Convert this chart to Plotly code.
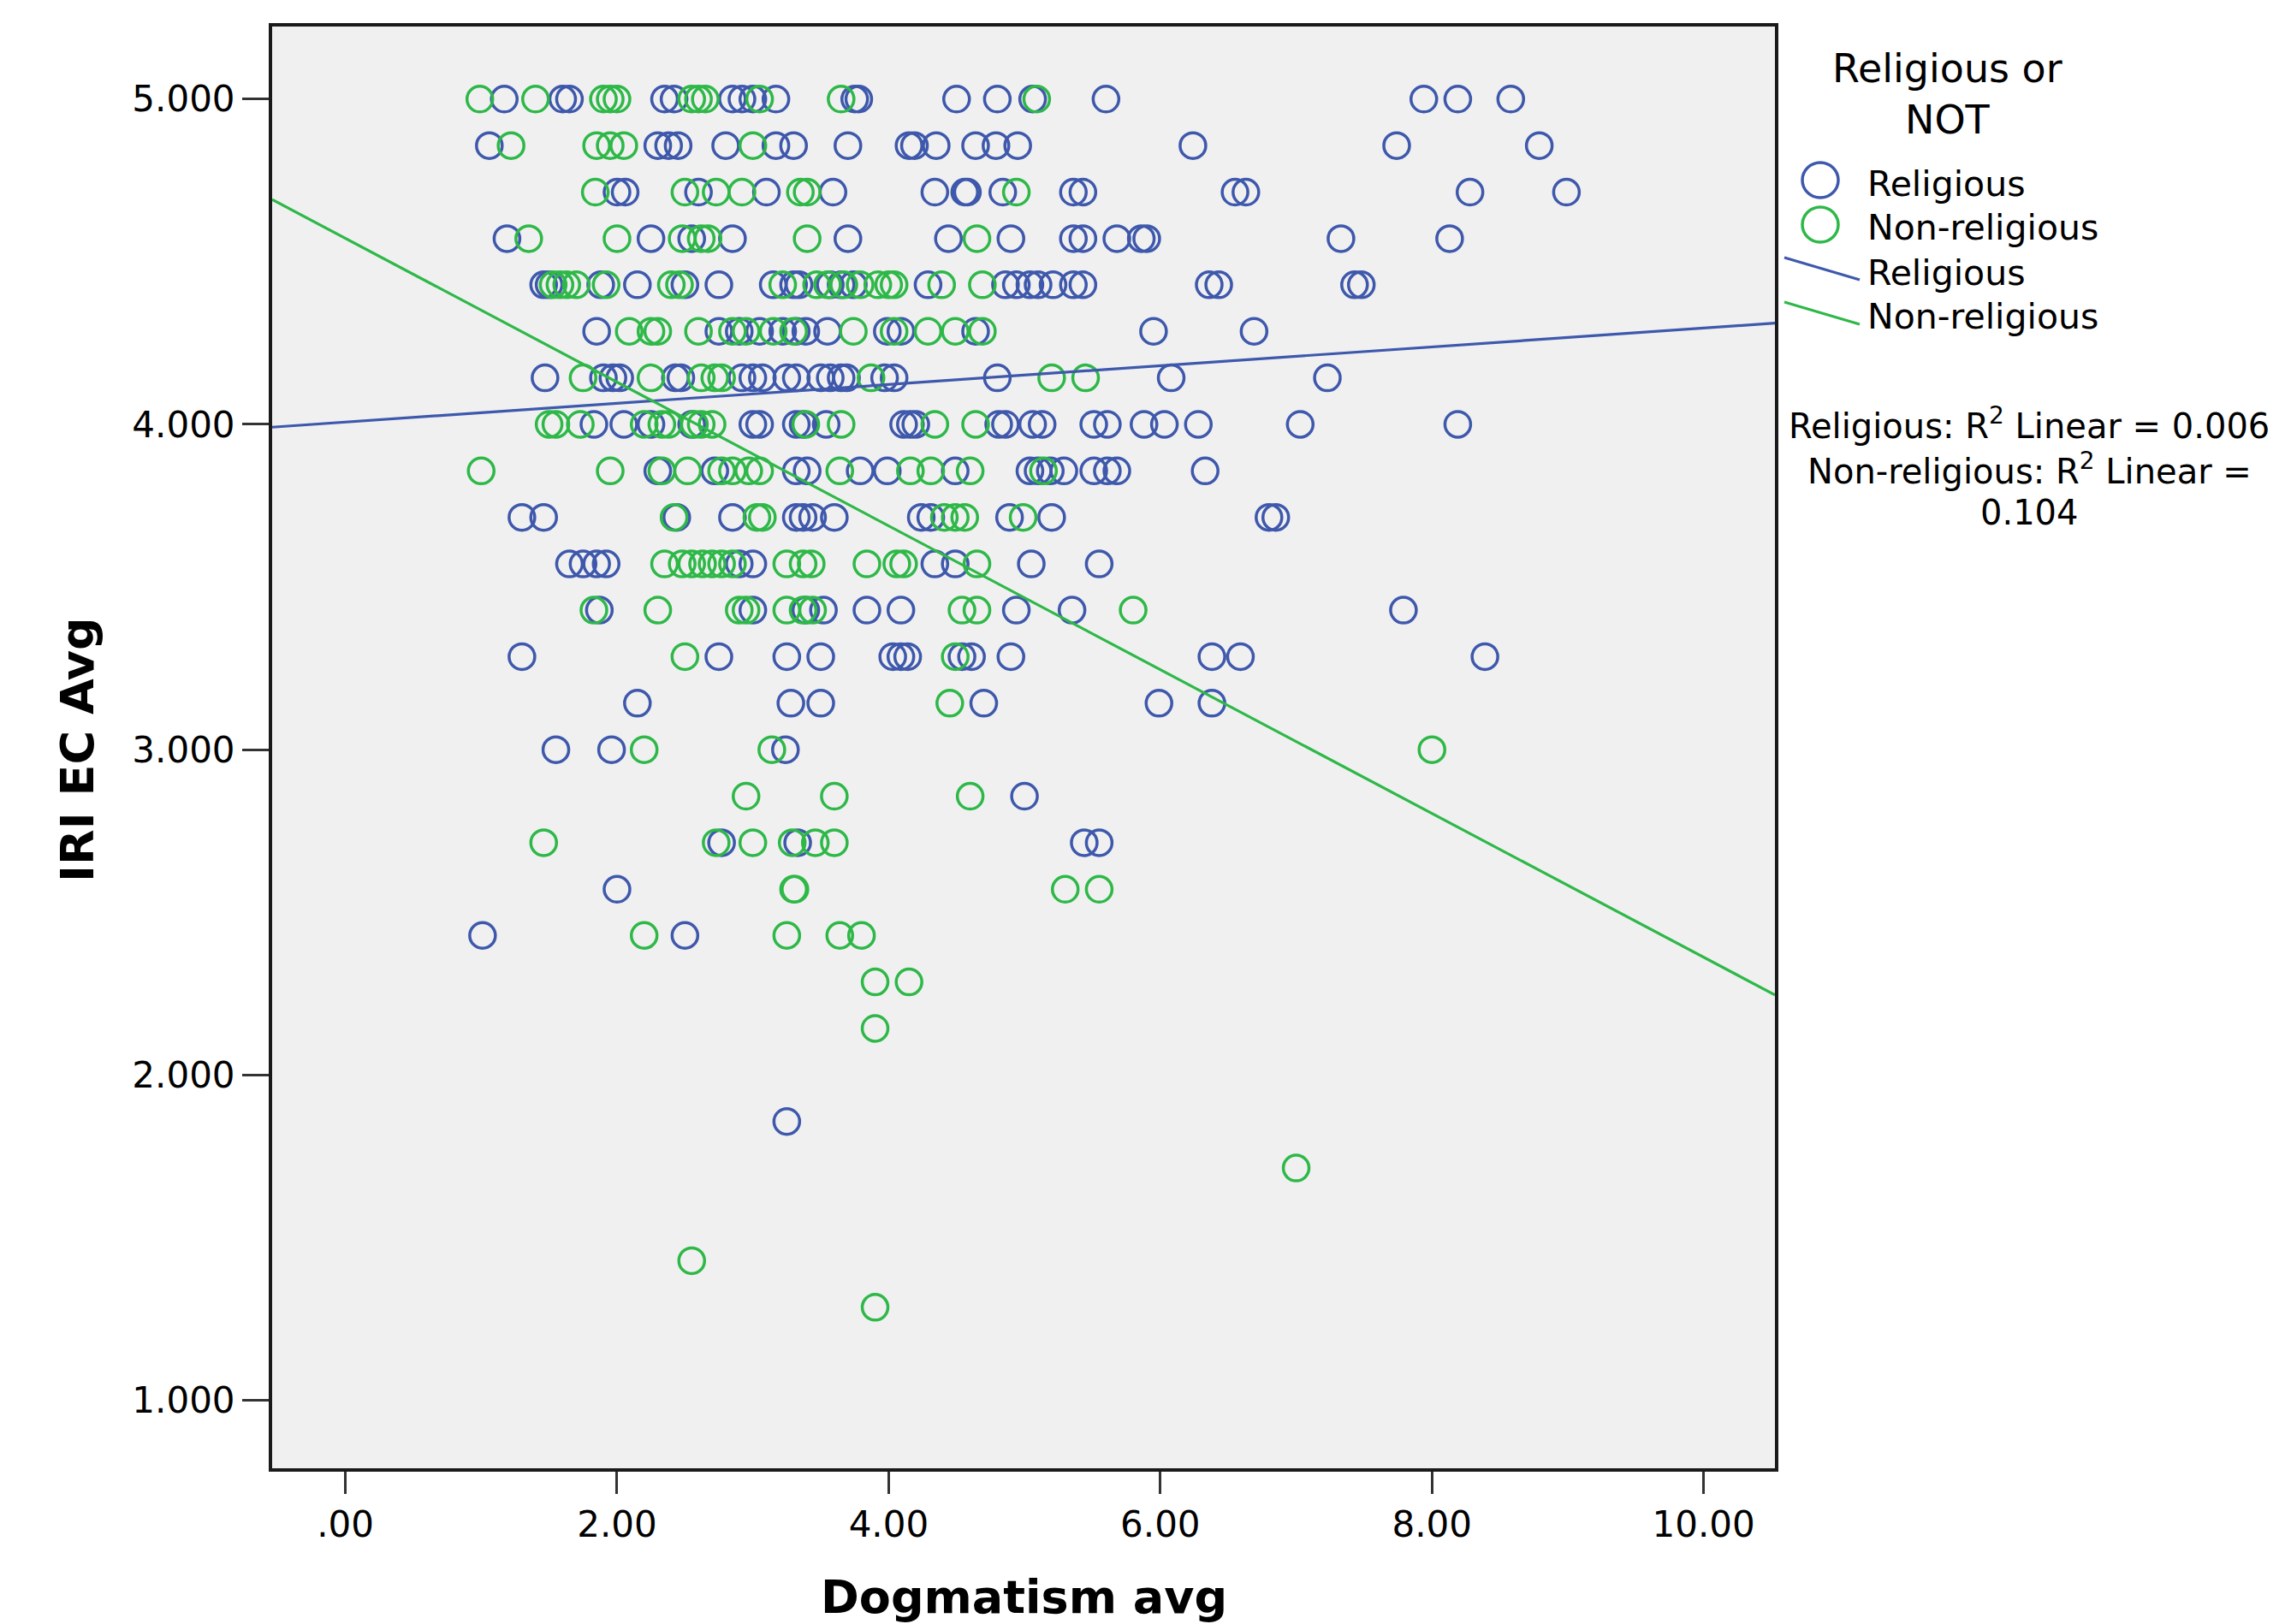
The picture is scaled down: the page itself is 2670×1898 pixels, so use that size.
import plotly.graph_objects as go

W, H = 2670, 1898
L, R, T, B = 318, 2074, 31, 1716  # plot-area box in pixels

BLUE = "#3E58AC"
GREEN = "#2EB848"
FONT = "DejaVu Sans"

x_range = [-0.539, 10.525]
y_range = [0.791, 5.223]
x_ticks = [0, 2, 4, 6, 8, 10]
x_tick_labels = [".00", "2.00", "4.00", "6.00", "8.00", "10.00"]
y_ticks = [1, 2, 3, 4, 5]
y_tick_labels = ["1.000", "2.000", "3.000", "4.000", "5.000"]

# Religious (blue) points
rel_x = [
    1.17, 1.60, 1.65, 2.35, 2.42, 2.85, 2.92, 3.00, 3.17, 3.75, 3.78, 4.50, 4.80, 5.06, 5.60, 7.94, 8.19, 8.58,
    1.06, 2.30, 2.38, 2.45, 2.80, 3.17, 3.30, 3.70, 4.15, 4.19, 4.35, 4.64, 4.79, 4.95, 6.24, 7.74, 8.79,
    2.00, 2.06, 2.60, 3.10, 3.59, 4.34, 4.56, 4.58, 4.84, 5.36, 5.43, 6.55, 6.63, 8.28, 8.99,
    1.19, 2.25, 2.55, 2.85, 3.70, 4.44, 4.90, 5.36, 5.43, 5.68, 5.86, 5.90, 7.33, 8.13,
    1.46, 1.50, 1.88, 2.15, 2.50, 2.75, 3.15, 3.30, 3.34, 3.57, 3.65, 3.74, 4.29, 4.86, 4.94, 5.04, 5.10, 5.21, 5.36, 5.43, 6.36, 6.43, 7.43, 7.48,
    1.85, 2.75, 2.90, 3.05, 3.22, 3.32, 3.39, 3.55, 3.99, 4.09, 4.64, 5.95, 6.69,
    1.47, 1.90, 1.97, 2.02, 2.43, 2.47, 2.92, 3.00, 3.07, 3.25, 3.32, 3.50, 3.57, 3.65, 3.69, 3.97, 4.04, 4.80, 6.08, 7.23,
    1.83, 2.05, 2.25, 2.55, 3.00, 3.05, 3.32, 3.37, 3.54, 4.11, 4.16, 4.20, 4.81, 4.86, 5.06, 5.13, 5.51, 5.61, 5.88, 6.03, 6.28, 7.03, 8.19,
    2.30, 2.72, 3.32, 3.40, 3.79, 3.99, 4.49, 5.04, 5.10, 5.19, 5.29, 5.51, 5.61, 5.68, 6.33,
    1.30, 1.46, 2.44, 2.85, 3.32, 3.37, 3.44, 3.60, 4.24, 4.31, 4.89, 5.20, 6.80, 6.85,
    1.65, 1.75, 1.85, 1.92, 2.90, 3.00, 4.34, 4.49, 5.05, 5.55,
    1.87, 3.00, 3.39, 3.52, 3.84, 4.09, 4.94, 5.35, 7.79,
    1.30, 2.75, 3.25, 3.50, 4.03, 4.09, 4.14, 4.54, 4.61, 4.90, 6.38, 6.59, 8.39,
    2.15, 3.28, 3.50, 4.70, 5.99, 6.38,
    1.55, 1.96, 3.24,
    5.00,
    2.77, 3.33, 5.44, 5.55,
    2.00,
    1.01, 2.50,
    3.25,
]
rel_y = [
    5.000, 5.000, 5.000, 5.000, 5.000, 5.000, 5.000, 5.000, 5.000, 5.000, 5.000, 5.000, 5.000, 5.000, 5.000, 5.000, 5.000, 5.000,
    4.857, 4.857, 4.857, 4.857, 4.857, 4.857, 4.857, 4.857, 4.857, 4.857, 4.857, 4.857, 4.857, 4.857, 4.857, 4.857, 4.857,
    4.714, 4.714, 4.714, 4.714, 4.714, 4.714, 4.714, 4.714, 4.714, 4.714, 4.714, 4.714, 4.714, 4.714, 4.714,
    4.571, 4.571, 4.571, 4.571, 4.571, 4.571, 4.571, 4.571, 4.571, 4.571, 4.571, 4.571, 4.571, 4.571,
    4.429, 4.429, 4.429, 4.429, 4.429, 4.429, 4.429, 4.429, 4.429, 4.429, 4.429, 4.429, 4.429, 4.429, 4.429, 4.429, 4.429, 4.429, 4.429, 4.429, 4.429, 4.429, 4.429, 4.429,
    4.286, 4.286, 4.286, 4.286, 4.286, 4.286, 4.286, 4.286, 4.286, 4.286, 4.286, 4.286, 4.286,
    4.143, 4.143, 4.143, 4.143, 4.143, 4.143, 4.143, 4.143, 4.143, 4.143, 4.143, 4.143, 4.143, 4.143, 4.143, 4.143, 4.143, 4.143, 4.143, 4.143,
    4.000, 4.000, 4.000, 4.000, 4.000, 4.000, 4.000, 4.000, 4.000, 4.000, 4.000, 4.000, 4.000, 4.000, 4.000, 4.000, 4.000, 4.000, 4.000, 4.000, 4.000, 4.000, 4.000,
    3.857, 3.857, 3.857, 3.857, 3.857, 3.857, 3.857, 3.857, 3.857, 3.857, 3.857, 3.857, 3.857, 3.857, 3.857,
    3.714, 3.714, 3.714, 3.714, 3.714, 3.714, 3.714, 3.714, 3.714, 3.714, 3.714, 3.714, 3.714, 3.714,
    3.571, 3.571, 3.571, 3.571, 3.571, 3.571, 3.571, 3.571, 3.571, 3.571,
    3.429, 3.429, 3.429, 3.429, 3.429, 3.429, 3.429, 3.429, 3.429,
    3.286, 3.286, 3.286, 3.286, 3.286, 3.286, 3.286, 3.286, 3.286, 3.286, 3.286, 3.286, 3.286,
    3.143, 3.143, 3.143, 3.143, 3.143, 3.143,
    3.000, 3.000, 3.000,
    2.857,
    2.714, 2.714, 2.714, 2.714,
    2.571,
    2.429, 2.429,
    1.857,
]

# Non-religious (green) points
non_x = [
    0.99, 1.40, 1.90, 1.95, 2.00, 2.55, 2.60, 2.65, 3.05, 3.65, 5.09,
    1.22, 1.85, 1.95, 2.05, 3.00,
    1.84, 2.50, 2.73, 2.92, 3.35, 3.40, 4.94,
    1.35, 2.00, 2.48, 2.62, 2.67, 3.40, 4.65,
    1.53, 1.58, 1.63, 1.70, 1.92, 2.40, 2.46, 3.22, 3.47, 3.55, 3.67, 3.79, 3.92, 4.00, 4.04, 4.39, 4.69,
    2.09, 2.25, 2.30, 2.60, 2.85, 2.95, 3.15, 3.30, 3.74, 4.04, 4.29, 4.49, 4.69,
    1.75, 2.25, 2.62, 2.72, 2.77, 3.87, 5.20, 5.45,
    1.50, 1.55, 1.73, 2.20, 2.33, 2.38, 2.57, 2.62, 2.70, 3.39, 3.65, 4.34, 4.64,
    1.00, 1.95, 2.33, 2.52, 2.77, 2.85, 2.97, 3.05, 3.64, 4.16, 4.31, 4.60, 5.14,
    2.42, 3.03, 3.07, 4.41, 4.49, 4.56, 4.99,
    2.35, 2.48, 2.55, 2.63, 2.70, 2.77, 2.85, 3.25, 3.37, 3.43, 3.84, 4.06, 4.11, 4.65,
    1.83, 2.30, 2.90, 2.95, 3.25, 3.37, 3.44, 4.54, 4.65, 5.80,
    2.50, 4.49,
    4.45,
    2.20, 3.14, 8.00,
    2.95, 3.60, 4.60,
    1.46, 2.73, 3.00, 3.29, 3.46, 3.60,
    3.30, 3.31, 5.30, 5.55,
    2.20, 3.25, 3.64, 3.80,
    3.90, 4.15,
    3.90,
    7.00,
    2.55,
    3.90,
]
non_y = [
    5.000, 5.000, 5.000, 5.000, 5.000, 5.000, 5.000, 5.000, 5.000, 5.000, 5.000,
    4.857, 4.857, 4.857, 4.857, 4.857,
    4.714, 4.714, 4.714, 4.714, 4.714, 4.714, 4.714,
    4.571, 4.571, 4.571, 4.571, 4.571, 4.571, 4.571,
    4.429, 4.429, 4.429, 4.429, 4.429, 4.429, 4.429, 4.429, 4.429, 4.429, 4.429, 4.429, 4.429, 4.429, 4.429, 4.429, 4.429,
    4.286, 4.286, 4.286, 4.286, 4.286, 4.286, 4.286, 4.286, 4.286, 4.286, 4.286, 4.286, 4.286,
    4.143, 4.143, 4.143, 4.143, 4.143, 4.143, 4.143, 4.143,
    4.000, 4.000, 4.000, 4.000, 4.000, 4.000, 4.000, 4.000, 4.000, 4.000, 4.000, 4.000, 4.000,
    3.857, 3.857, 3.857, 3.857, 3.857, 3.857, 3.857, 3.857, 3.857, 3.857, 3.857, 3.857, 3.857,
    3.714, 3.714, 3.714, 3.714, 3.714, 3.714, 3.714,
    3.571, 3.571, 3.571, 3.571, 3.571, 3.571, 3.571, 3.571, 3.571, 3.571, 3.571, 3.571, 3.571, 3.571,
    3.429, 3.429, 3.429, 3.429, 3.429, 3.429, 3.429, 3.429, 3.429, 3.429,
    3.286, 3.286,
    3.143,
    3.000, 3.000, 3.000,
    2.857, 2.857, 2.857,
    2.714, 2.714, 2.714, 2.714, 2.714, 2.714,
    2.571, 2.571, 2.571, 2.571,
    2.429, 2.429, 2.429, 2.429,
    2.286, 2.286,
    2.143,
    1.714,
    1.429,
    1.286,
]

# Linear fit lines
fit_names = ["Religious", "Non-religious"]
fit_intercept = [4.007, 4.572]
fit_slope = [0.0289, -0.221]
r2_values = ["0.006", "0.104"]
legend_title = "Religious or<br>NOT"

MSIZE = 30
MLINE = 3.5

fig = go.Figure()
fig.add_trace(go.Scatter(
    x=rel_x, y=rel_y, mode="markers", name="Religious",
    marker=dict(symbol="circle-open", size=MSIZE, color=BLUE, line=dict(width=MLINE, color=BLUE)),
))
fig.add_trace(go.Scatter(
    x=non_x, y=non_y, mode="markers", name="Non-religious",
    marker=dict(symbol="circle-open", size=MSIZE, color=GREEN, line=dict(width=MLINE, color=GREEN)),
))
for name, b0, b1, col in zip(fit_names, fit_intercept, fit_slope, [BLUE, GREEN]):
    xs = [x_range[0], x_range[1]]
    ys = [b0 + b1 * v for v in xs]
    fig.add_trace(go.Scatter(x=xs, y=ys, mode="lines", name=name,
                             line=dict(color=col, width=3.2)))


def px(xp):
    return (xp - L) / (R - L)


def py(yp):
    return (B - yp) / (B - T)


annotations = [
    dict(text="<b>Dogmatism avg</b>", x=0.5, y=py(1866), xref="paper", yref="paper",
         xanchor="center", yanchor="middle", showarrow=False,
         font=dict(family=FONT, size=54, color="black")),
    dict(text="<b>IRI EC Avg</b>", x=px(90), y=py(876), xref="paper", yref="paper",
         xanchor="center", yanchor="middle", showarrow=False, textangle=-90,
         font=dict(family=FONT, size=54, color="black")),
    # legend title
    dict(text=legend_title, x=px(2275), y=py(110), xref="paper", yref="paper",
         xanchor="center", yanchor="middle", showarrow=False, align="center",
         font=dict(family=FONT, size=46, color="black")),
]
legend_labels = ["Religious", "Non-religious", "Religious", "Non-religious"]
legend_label_y = [215, 266, 319, 370]
for lab, yy in zip(legend_labels, legend_label_y):
    annotations.append(dict(text=lab, x=px(2180), y=py(yy), xref="paper", yref="paper",
                            xanchor="left", yanchor="middle", showarrow=False,
                            font=dict(family=FONT, size=41, color="black")))

r2_lines = [
    f"{fit_names[0]}: R<sup>2</sup> Linear = {r2_values[0]}",
    f"{fit_names[1]}: R<sup>2</sup> Linear =",
    f"{r2_values[1]}",
]
for txt, yy in zip(r2_lines, [495, 548, 599]):
    annotations.append(dict(text=txt, x=px(2371), y=py(yy), xref="paper", yref="paper",
                            xanchor="center", yanchor="middle", showarrow=False,
                            font=dict(family=FONT, size=40, color="black")))

shapes = [
    # legend marker symbols
    dict(type="circle", xref="paper", yref="paper",
         x0=px(2106), x1=px(2148), y0=py(231), y1=py(190),
         line=dict(color=BLUE, width=3.5)),
    dict(type="circle", xref="paper", yref="paper",
         x0=px(2106), x1=px(2148), y0=py(283), y1=py(242),
         line=dict(color=GREEN, width=3.5)),
    # legend line symbols
    dict(type="line", xref="paper", yref="paper",
         x0=px(2085), x1=px(2173), y0=py(301), y1=py(327),
         line=dict(color=BLUE, width=3)),
    dict(type="line", xref="paper", yref="paper",
         x0=px(2085), x1=px(2173), y0=py(353), y1=py(379),
         line=dict(color=GREEN, width=3)),
]

fig.update_layout(
    width=W, height=H,
    margin=dict(l=L, r=W - R, t=T, b=H - B, pad=0),
    paper_bgcolor="white",
    plot_bgcolor="#F0F0F0",
    showlegend=False,
    font=dict(family=FONT, color="black"),
    annotations=annotations,
    shapes=shapes,
    xaxis=dict(range=x_range, tickvals=x_ticks, ticktext=x_tick_labels,
               showgrid=False, zeroline=False, showline=True, mirror=True,
               linecolor="#1a1a1a", linewidth=4,
               ticks="outside", ticklen=26, tickwidth=2.5, tickcolor="#333333",
               tickfont=dict(family=FONT, size=42, color="black")),
    yaxis=dict(range=y_range, tickvals=y_ticks, ticktext=y_tick_labels,
               showgrid=False, zeroline=False, showline=True, mirror=True,
               linecolor="#1a1a1a", linewidth=4,
               ticks="outside", ticklen=31, tickwidth=3, tickcolor="#333333",
               tickfont=dict(family=FONT, size=42, color="black")),
)

fig.write_html("out.html")
